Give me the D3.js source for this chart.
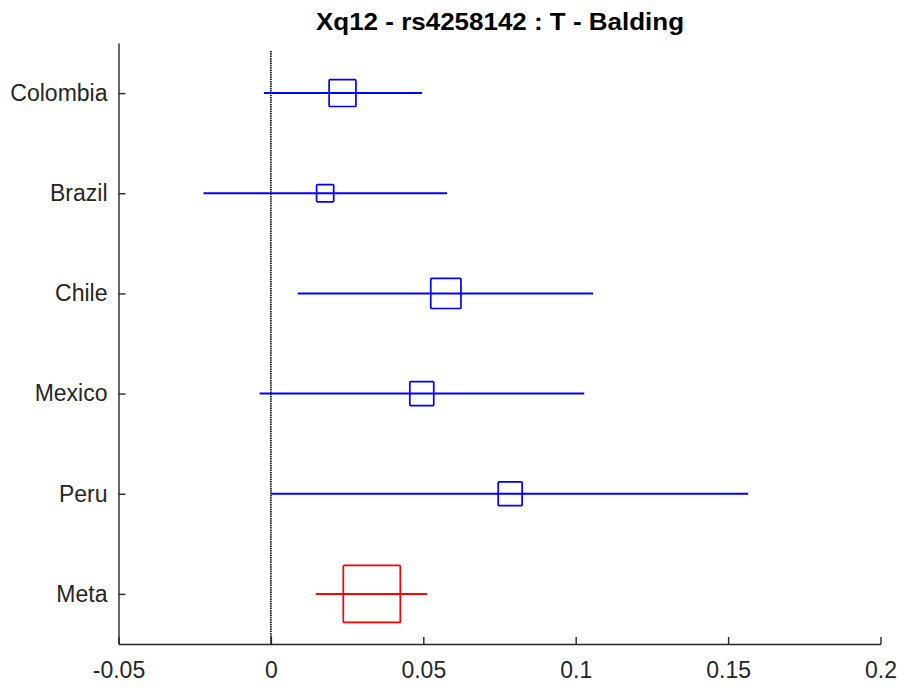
<!DOCTYPE html>
<html>
<head>
<meta charset="utf-8">
<script src="https://cdn.jsdelivr.net/npm/d3@7"></script>
<style>
  html, body { margin: 0; padding: 0; background: #fff; }
  svg { display: block; }
</style>
</head>
<body>
<script>
// ---- data ----
const categories = ["Colombia", "Brazil", "Chile", "Mexico", "Peru", "Meta"];
const estimates  = [0.0235, 0.0178, 0.0574, 0.0495, 0.0785, 0.0331];
const lowerCI    = [-0.0023, -0.0221, 0.0088, -0.0037, 0.0000, 0.0147];
const upperCI    = [0.0496, 0.0578, 0.1057, 0.1028, 0.1566, 0.0512];
const weights    = [0.47, 0.30, 0.53, 0.42, 0.42, 1.00];
const isMeta     = [false, false, false, false, false, true];
const xTicks     = [-0.05, 0, 0.05, 0.1, 0.15, 0.2];
const xDomain    = [-0.05, 0.2];
const titleText  = "Xq12 - rs4258142 : T - Balding";

const W = 901, H = 690;
const margin = { left: 118.5, right: 20.5, top: 43, bottom: 46 };
const svg = d3.select("body").append("svg").attr("width", W).attr("height", H);

const x = d3.scaleLinear().domain(xDomain).range([margin.left, W - margin.right]);
const n = categories.length;
const y = d3.scaleLinear().domain([0.5, n + 0.5]).range([H - margin.bottom, margin.top]);
const yPos = i => y(n - i);
const size = d3.scaleLinear().domain([0, 1]).range([0, 57]);

const axisColor = "#262626";
const font = "'Liberation Sans', Arial, Helvetica, sans-serif";

// zero reference line
svg.append("line")
  .attr("x1", x(0)).attr("x2", x(0))
  .attr("y1", y(n + 0.42)).attr("y2", y(0.5))
  .attr("stroke", "#000").attr("stroke-width", 1.6)
  .attr("stroke-dasharray", "1.5,0.8");

// CI lines
const rows = categories.map((c, i) => ({ c, i, est: estimates[i], lo: lowerCI[i], hi: upperCI[i], w: weights[i], meta: isMeta[i] }));
const g = svg.append("g");
g.selectAll("line.ci").data(rows).join("line")
  .attr("class", "ci")
  .attr("x1", d => x(d.lo)).attr("x2", d => x(d.hi))
  .attr("y1", d => yPos(d.i)).attr("y2", d => yPos(d.i))
  .attr("stroke", d => d.meta ? "#ff0000" : "#0000ff")
  .attr("stroke-width", 2);

g.selectAll("rect.box").data(rows).join("rect")
  .attr("class", "box")
  .attr("x", d => x(d.est) - size(d.w) / 2)
  .attr("y", d => yPos(d.i) - size(d.w) / 2)
  .attr("width", d => size(d.w)).attr("height", d => size(d.w))
  .attr("rx", 1)
  .attr("fill", "none")
  .attr("stroke", d => d.meta ? "#ff0000" : "#0000ff")
  .attr("stroke-width", 1.7);

// axes
const xAxis = d3.axisBottom(x).tickValues(xTicks).tickFormat(d => String(d))
  .tickSizeInner(-7).tickSizeOuter(0).tickPadding(18);
const gx = svg.append("g").attr("transform", `translate(0,${H - margin.bottom})`).call(xAxis);
gx.select(".domain").attr("stroke", axisColor).attr("stroke-width", 1.4);
gx.selectAll(".tick line").attr("stroke", axisColor).attr("stroke-width", 1.4);
gx.selectAll(".tick text").attr("font-family", font).attr("font-size", 23).attr("fill", axisColor);

const yAxis = d3.axisLeft(y).tickValues(d3.range(1, n + 1)).tickFormat(v => categories[n - v])
  .tickSizeInner(-7).tickSizeOuter(0).tickPadding(11);
const gy = svg.append("g").attr("transform", `translate(${margin.left},0)`).call(yAxis);
gy.select(".domain").attr("stroke", axisColor).attr("stroke-width", 1.4);
gy.selectAll(".tick line").attr("stroke", axisColor).attr("stroke-width", 1.4);
gy.selectAll(".tick text").attr("font-family", font).attr("font-size", 23).attr("fill", axisColor);

// title
svg.append("text")
  .attr("x", 500).attr("y", 30)
  .attr("text-anchor", "middle")
  .attr("font-family", font).attr("font-weight", "bold").attr("font-size", 24)
  .attr("textLength", 368).attr("lengthAdjust", "spacingAndGlyphs")
  .attr("fill", "#000")
  .text(titleText);
</script>
</body>
</html>
